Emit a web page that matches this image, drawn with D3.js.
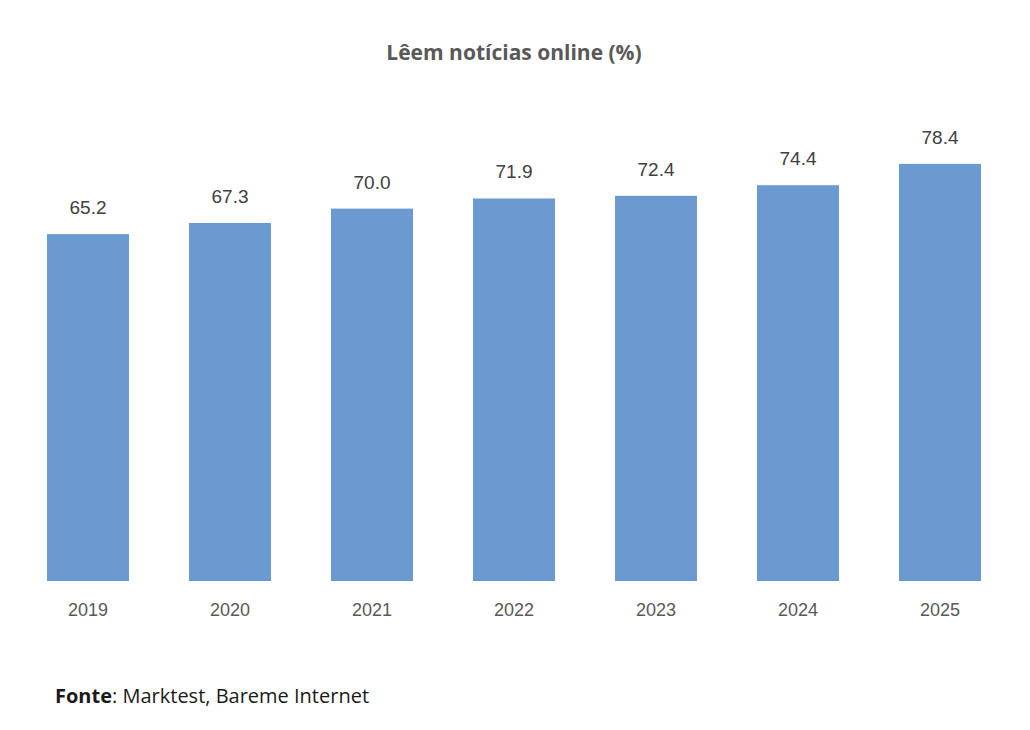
<!DOCTYPE html>
<html><head><meta charset="utf-8">
<script src="https://cdn.jsdelivr.net/npm/d3@7"></script>
<style>body{margin:0;background:#fff}</style>
</head><body>
<svg id="c" width="1030" height="730"></svg>
<script>
const categories = ["2019","2020","2021","2022","2023","2024","2025"];
const values = [65.2,67.3,70.0,71.9,72.4,74.4,78.4];
const title = "Lêem notícias online (%)";

const svg = d3.select("#c");
const x = d3.scaleBand().domain(categories).range([17,1011]).paddingInner(0.4225).paddingOuter(0.2113);
const y = d3.scaleLinear().domain([0,100]).range([581,49]);

svg.append("text").attr("x",514).attr("y",60).attr("text-anchor","middle")
  .attr("font-family","'Open Sans', sans-serif").attr("font-weight","bold").attr("font-size",21)
  .attr("fill","#595959").text(title);

svg.selectAll("rect.bar").data(values).join("rect").attr("class","bar")
  .attr("x",(d,i)=>x(categories[i])).attr("width",x.bandwidth())
  .attr("y",d=>y(d)).attr("height",d=>y(0)-y(d)).attr("fill","#6a9ad0");

svg.selectAll("text.lab").data(values).join("text").attr("class","lab")
  .attr("x",(d,i)=>x(categories[i])+x.bandwidth()/2).attr("y",d=>y(d)-20)
  .attr("text-anchor","middle").attr("font-family","Liberation Sans, Arial, sans-serif")
  .attr("font-size",19).attr("fill","#404040").text(d=>d.toFixed(1));

const ax = svg.append("g").attr("transform","translate(0,581)")
  .call(d3.axisBottom(x).tickSize(0).tickPadding(22));
ax.select(".domain").remove();
ax.selectAll("text").attr("font-family","Liberation Sans, Arial, sans-serif").attr("font-size",18).attr("fill","#595959");

const f = svg.append("text").attr("x",55).attr("y",703).attr("font-family","'Open Sans', sans-serif")
  .attr("font-size",20).attr("fill","#1a1a1a");
f.append("tspan").attr("font-weight","bold").text("Fonte");
f.append("tspan").text(": Marktest, Bareme Internet");
</script>
</body></html>
